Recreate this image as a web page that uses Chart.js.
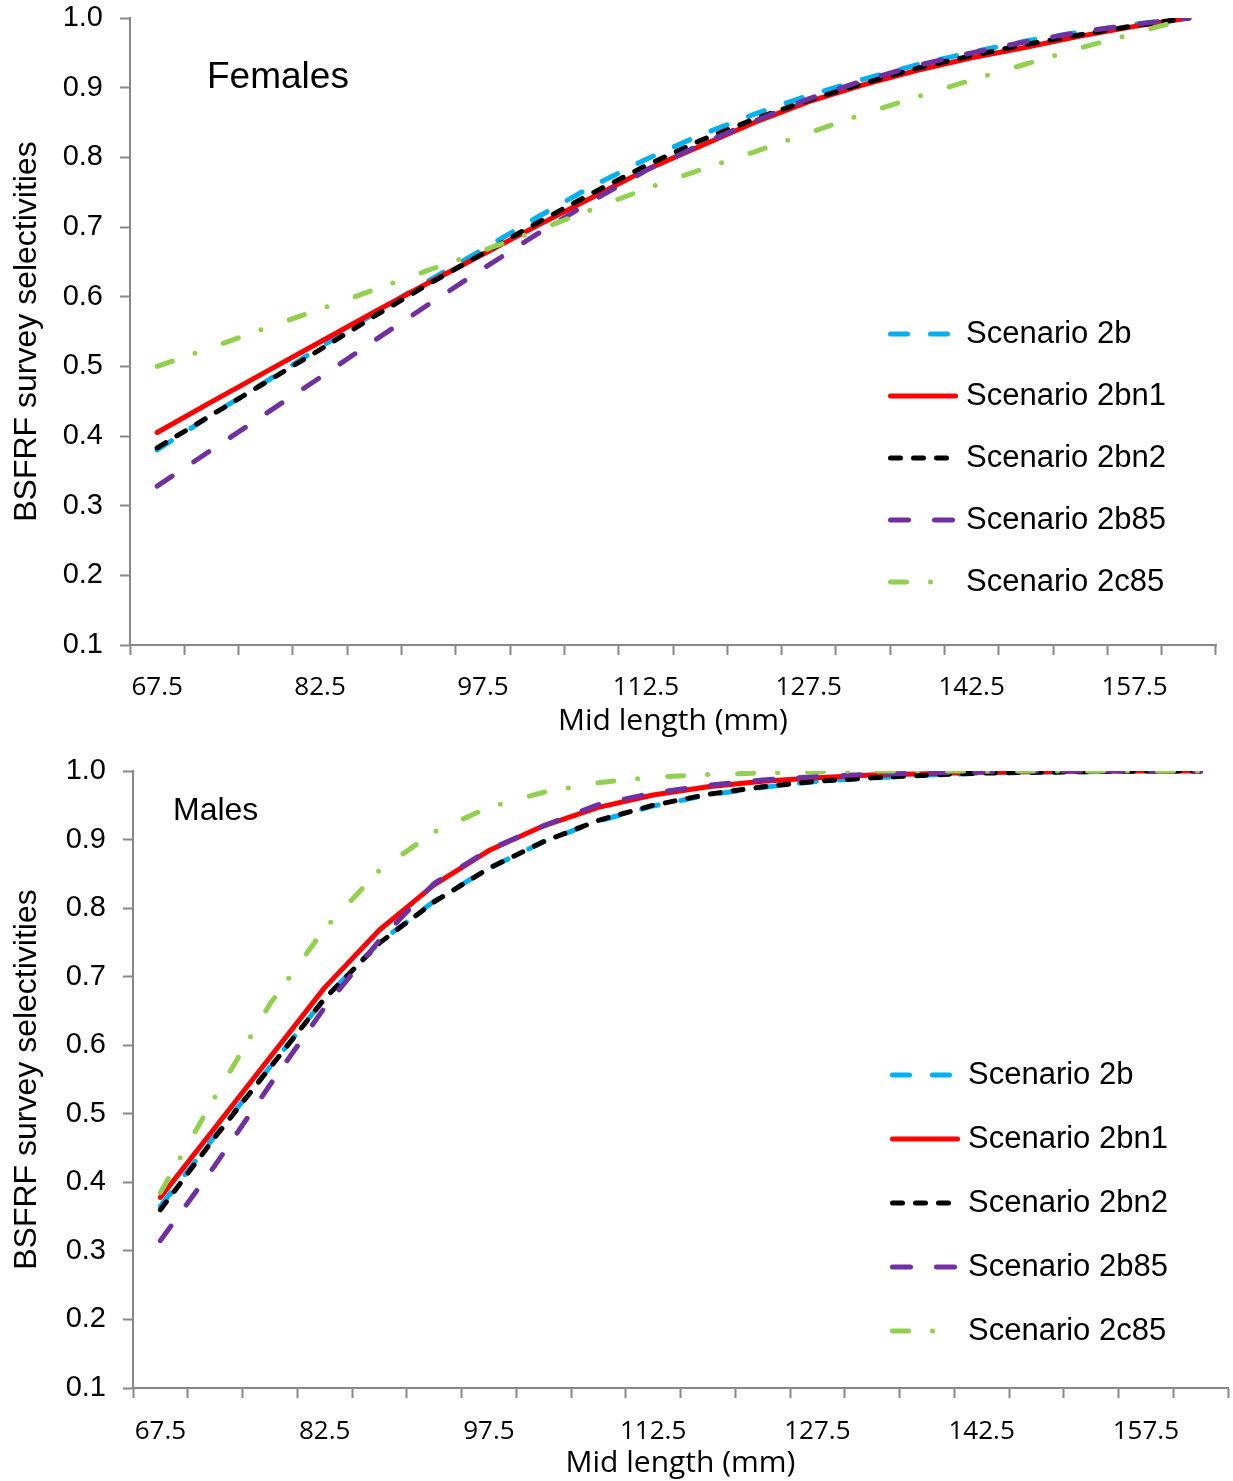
<!DOCTYPE html>
<html>
<head>
<meta charset="utf-8">
<title>BSFRF survey selectivities</title>
<script src="https://cdn.jsdelivr.net/npm/chart.js@4.4.1/dist/chart.umd.min.js"></script>
<style>
  html, body { margin: 0; padding: 0; background: #fff; }
  #wrap { position: relative; width: 1233px; height: 1481px; }
  canvas { position: absolute; left: 0; }
  #femalesChart { top: 0; }
  #malesChart { top: 740px; }
</style>
</head>
<body>
<div id="wrap">
  <canvas id="femalesChart" width="1233" height="740"></canvas>
  <canvas id="malesChart" width="1233" height="741"></canvas>
</div>
<script>
// mid length classes (mm)
const lengths = ['67.5', '72.5', '77.5', '82.5', '87.5', '92.5', '97.5', '102.5', '107.5', '112.5',
                 '117.5', '122.5', '127.5', '132.5', '137.5', '142.5', '147.5', '152.5', '157.5', '162.5'];
const xTickLabels = ['67.5', '82.5', '97.5', '112.5', '127.5', '142.5', '157.5'];
const scenarioNames = ['Scenario 2b', 'Scenario 2bn1', 'Scenario 2bn2', 'Scenario 2b85', 'Scenario 2c85'];

// females
const f2b   = [0.380, 0.430, 0.478, 0.527, 0.576, 0.623, 0.668, 0.714, 0.758, 0.797, 0.832, 0.862, 0.889, 0.912, 0.933, 0.951, 0.967, 0.980, 0.991, 1.000];
const f2bn1 = [0.405, 0.449, 0.492, 0.535, 0.578, 0.620, 0.661, 0.702, 0.742, 0.782, 0.816, 0.850, 0.880, 0.904, 0.925, 0.943, 0.958, 0.974, 0.988, 1.000];
const f2bn2 = [0.383, 0.430, 0.477, 0.524, 0.572, 0.618, 0.662, 0.706, 0.748, 0.788, 0.824, 0.855, 0.882, 0.906, 0.928, 0.946, 0.962, 0.976, 0.989, 1.000];
const f2b85 = [0.328, 0.380, 0.432, 0.484, 0.537, 0.589, 0.640, 0.690, 0.737, 0.781, 0.818, 0.852, 0.884, 0.910, 0.932, 0.950, 0.966, 0.980, 0.991, 1.000];
const f2c85 = [0.500, 0.527, 0.555, 0.582, 0.610, 0.638, 0.666, 0.695, 0.725, 0.755, 0.782, 0.808, 0.835, 0.862, 0.887, 0.911, 0.934, 0.957, 0.978, 1.000];

// males
const m2b   = [0.365, 0.468, 0.568, 0.668, 0.750, 0.810, 0.858, 0.897, 0.927, 0.949, 0.965, 0.976, 0.985, 0.990, 0.994, 0.997, 0.998, 0.999, 1.000, 1.000];
const m2bn1 = [0.378, 0.480, 0.582, 0.684, 0.768, 0.834, 0.884, 0.920, 0.947, 0.965, 0.977, 0.985, 0.990, 0.994, 0.996, 0.998, 0.999, 1.000, 1.000, 1.000];
const m2bn2 = [0.360, 0.466, 0.567, 0.668, 0.749, 0.809, 0.858, 0.897, 0.928, 0.950, 0.966, 0.977, 0.985, 0.990, 0.994, 0.997, 0.998, 0.999, 1.000, 1.000];
const m2b85 = [0.315, 0.425, 0.542, 0.655, 0.753, 0.836, 0.885, 0.920, 0.951, 0.968, 0.979, 0.987, 0.992, 0.995, 0.997, 0.999, 1.000, 1.000, 1.000, 1.000];
const m2c85 = [0.385, 0.525, 0.660, 0.770, 0.855, 0.911, 0.947, 0.969, 0.983, 0.991, 0.995, 0.997, 0.999, 1.000, 1.000, 1.000, 1.000, 1.000, 1.000, 1.000];

const AXIS_GREY = '#888888';
const ARIAL = "'Liberation Sans', Arial, sans-serif";
const SEGOE = "'Open Sans', 'Segoe UI', sans-serif";

// line styles per scenario, same order as scenarioNames
const lineStyles = [
    { color: '#00B0F0', dash: [17, 23], order: 5 },
    { color: '#FF0000', dash: [], order: 4 },
    { color: '#000000', dash: [10, 13], order: 3 },
    { color: '#7030A0', dash: [18, 26], order: 2 },
    { color: '#92D050', dash: [16, 24, 0, 30], order: 1 }
];

function makeDatasets(seriesList) {
    return seriesList.map((values, i) => ({
        label: scenarioNames[i],
        data: values,
        borderColor: lineStyles[i].color,
        backgroundColor: lineStyles[i].color,
        borderDash: lineStyles[i].dash,
        borderCapStyle: 'round',
        borderJoinStyle: 'round',
        borderWidth: 5,
        pointRadius: 0,
        tension: 0,
        fill: false,
        order: lineStyles[i].order
    }));
}

// legend + panel label drawn inside the plot area
const insideLegend = {
    id: 'insideLegend',
    afterDraw(chart, args, opts) {
        const ctx = chart.ctx;
        ctx.save();
        ctx.fillStyle = '#000';
        ctx.textAlign = 'left';
        ctx.textBaseline = 'middle';
        ctx.font = opts.labelFont;
        ctx.fillText(opts.label, opts.labelX, opts.labelY);

        chart.data.datasets.forEach((ds, i) => {
            const y = opts.y + i * opts.dy;
            ctx.beginPath();
            ctx.strokeStyle = ds.borderColor;
            ctx.lineWidth = ds.borderWidth;
            ctx.lineCap = 'round';
            ctx.setLineDash(ds.borderDash || []);
            ctx.moveTo(opts.x + 2.5, y);
            ctx.lineTo(opts.x + opts.len - 2.5, y);
            ctx.stroke();
            ctx.setLineDash([]);
            ctx.font = opts.font;
            ctx.fillText(ds.label, opts.textX, y);
        });
        ctx.restore();
    }
};

function buildChart(canvasId, seriesList, cfg) {
    const canvas = document.getElementById(canvasId);
    if (!canvas) {
        console.error(canvasId + ' not found');
        return null;
    }
    return new Chart(canvas.getContext('2d'), {
        type: 'line',
        data: { labels: lengths, datasets: makeDatasets(seriesList) },
        options: {
            responsive: false,
            animation: false,
            layout: { padding: { top: cfg.padTop, right: cfg.padRight, left: 0, bottom: 0 } },
            scales: {
                x: {
                    offset: true,
                    grid: {
                        offset: true,
                        drawOnChartArea: false,
                        drawTicks: true,
                        tickLength: 10,
                        tickWidth: 2,
                        tickColor: AXIS_GREY
                    },
                    border: { color: AXIS_GREY, width: 2 },
                    ticks: {
                        autoSkip: false,
                        maxRotation: 0,
                        padding: cfg.xTickPad,
                        color: '#000',
                        font: { family: SEGOE, size: 26 },
                        callback: function (value, index) {
                            const lab = lengths[index];
                            return xTickLabels.includes(lab) ? lab : '';
                        }
                    },
                    title: {
                        display: true,
                        text: 'Mid length (mm)',
                        color: '#000',
                        font: { family: SEGOE, size: 30 },
                        padding: { top: 0, bottom: cfg.xTitlePad }
                    },
                    afterFit: function (scale) { scale.height = cfg.xHeight; }
                },
                y: {
                    min: 0.1,
                    max: 1.0,
                    grid: {
                        drawOnChartArea: false,
                        drawTicks: true,
                        tickLength: 10,
                        tickWidth: 2,
                        tickColor: AXIS_GREY
                    },
                    border: { color: AXIS_GREY, width: 2 },
                    ticks: {
                        stepSize: 0.1,
                        padding: 17,
                        color: '#000',
                        font: { family: ARIAL, size: 29 },
                        callback: v => v.toFixed(1)
                    },
                    title: {
                        display: true,
                        text: 'BSFRF survey selectivities',
                        color: '#000',
                        font: { family: ARIAL, size: 32 },
                        padding: { top: 8, bottom: 0 }
                    },
                    afterFit: function (scale) {
                        scale.width = cfg.yWidth;
                        // keep the plot top/bottom where the layout padding puts it
                        scale.paddingTop = 0;
                        scale.paddingBottom = 0;
                    }
                }
            },
            plugins: {
                legend: { display: false },
                tooltip: { enabled: false },
                insideLegend: cfg.legend
            }
        },
        plugins: [insideLegend]
    });
}

buildChart('femalesChart', [f2b, f2bn1, f2bn2, f2b85, f2c85], {
    padTop: 18, padRight: 17, yWidth: 130, xHeight: 95, xTickPad: 17, xTitlePad: 1,
    legend: {
        label: 'Females', labelX: 207, labelY: 78, labelFont: '37px ' + ARIAL,
        x: 888, len: 70, textX: 966, y: 334, dy: 62, font: '31px ' + ARIAL
    }
});

buildChart('malesChart', [m2b, m2bn1, m2bn2, m2b85, m2c85], {
    padTop: 31, padRight: 5, yWidth: 133, xHeight: 93, xTickPad: 18, xTitlePad: 0,
    legend: {
        label: 'Males', labelX: 173, labelY: 71, labelFont: '32px ' + ARIAL,
        x: 890, len: 70, textX: 968, y: 335, dy: 64, font: '31px ' + ARIAL
    }
});
</script>
</body>
</html>
